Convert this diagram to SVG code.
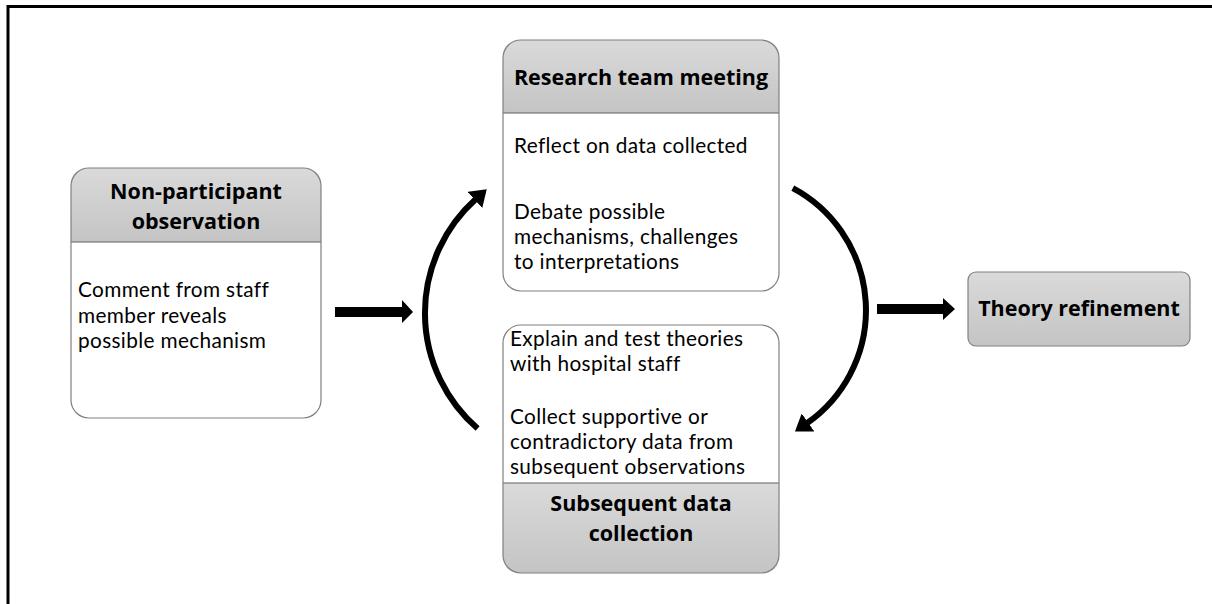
<svg xmlns="http://www.w3.org/2000/svg" width="1212" height="604" viewBox="0 0 1212 604">
<defs>
<linearGradient id="hdr" x1="0" y1="0" x2="0" y2="1">
<stop offset="0" stop-color="#dadada"/>
<stop offset="1" stop-color="#c4c4c4"/>
</linearGradient>
<marker id="ah" markerUnits="userSpaceOnUse" markerWidth="16" markerHeight="22" refX="1" refY="11" orient="auto" viewBox="0 0 16 22">
<path d="M0,0 L16,11 L0,22 z" fill="#000"/>
</marker>
</defs>
<style>
.box{fill:none;stroke:#808080;stroke-width:1.2}
.hd{fill:url(#hdr)}
.bd{fill:#fff}
.sep{stroke:#606060;stroke-width:1.2}
text{fill:#000}
.t{font-family:Lato,"Open Sans","Liberation Sans",sans-serif;font-size:20.8px;letter-spacing:0.35px}
.b{font-family:"Open Sans",Lato,"Liberation Sans",sans-serif;font-size:21.5px;font-weight:bold;text-anchor:middle}
.arc{fill:none;stroke:#000;stroke-width:6}
</style>
<rect x="0" y="0" width="1212" height="604" fill="#fff"/>
<path d="M8,604 V6.5 H1212" fill="none" stroke="#000" stroke-width="3"/>

<g id="node-observation">
<path class="bd" d="M71,242 H321 V400 Q321,418 303,418 H89 Q71,418 71,400 Z"/>
<path class="hd" d="M71,242 V186 Q71,168 89,168 H303 Q321,168 321,186 V242 Z"/>
<line class="sep" x1="71" y1="242" x2="321" y2="242"/>
<rect class="box" x="71" y="168" width="250" height="250" rx="18"/>
<text class="b" x="196" y="199">Non-participant<tspan x="196" dy="29.5">observation</tspan></text>
<text class="t" x="78" y="297">Comment from staff<tspan x="78" dy="25.5">member reveals</tspan><tspan x="78" dy="25.5">possible mechanism</tspan></text>
</g>

<g id="node-meeting">
<path class="bd" d="M503,113 H779 V273 Q779,291 761,291 H521 Q503,291 503,273 Z"/>
<path class="hd" d="M503,113 V58 Q503,40 521,40 H761 Q779,40 779,58 V113 Z"/>
<line class="sep" x1="503" y1="113" x2="779" y2="113"/>
<rect class="box" x="503" y="40" width="276" height="251" rx="18"/>
<text class="b" x="641" y="85">Research team meeting</text>
<text class="t" x="514" y="153">Reflect on data collected</text>
<text class="t" x="514" y="219">Debate possible<tspan x="514" dy="25.2">mechanisms, challenges</tspan><tspan x="514" dy="25.2">to interpretations</tspan></text>
</g>

<g id="node-collection">
<path class="bd" d="M503,483 V343 Q503,325 521,325 H761 Q779,325 779,343 V483 Z"/>
<path class="hd" d="M503,483 H779 V555 Q779,573 761,573 H521 Q503,573 503,555 Z"/>
<line class="sep" x1="503" y1="483" x2="779" y2="483"/>
<rect class="box" x="503" y="325" width="276" height="248" rx="18"/>
<text class="t" x="510" y="346">Explain and test theories<tspan x="510" dy="25.2">with hospital staff</tspan></text>
<text class="t" x="510" y="424">Collect supportive or<tspan x="510" dy="25.2">contradictory data from</tspan><tspan x="510" dy="25.2">subsequent observations</tspan></text>
<text class="b" x="641" y="511">Subsequent data<tspan x="641" dy="30">collection</tspan></text>
</g>

<g id="node-theory">
<rect class="hd" x="968" y="272" width="222" height="74" rx="8"/>
<rect class="box" x="968" y="272" width="222" height="74" rx="8"/>
<text class="b" x="1079" y="316">Theory refinement</text>
</g>

<g id="connectors">
<polygon points="335,307 402,307 402,300 413,312 402,323 402,317 335,317" fill="#000"/>
<polygon points="877,304 943,304 943,298 955,309 943,320 943,314 877,314" fill="#000"/>
<path class="arc" d="M477.6,428.5 A153,153 0 0 1 475.6,199.3" marker-end="url(#ah)"/>
<path class="arc" d="M792.8,188.2 A138,138 0 0 1 807.2,423" marker-end="url(#ah)"/>
</g>
</svg>
